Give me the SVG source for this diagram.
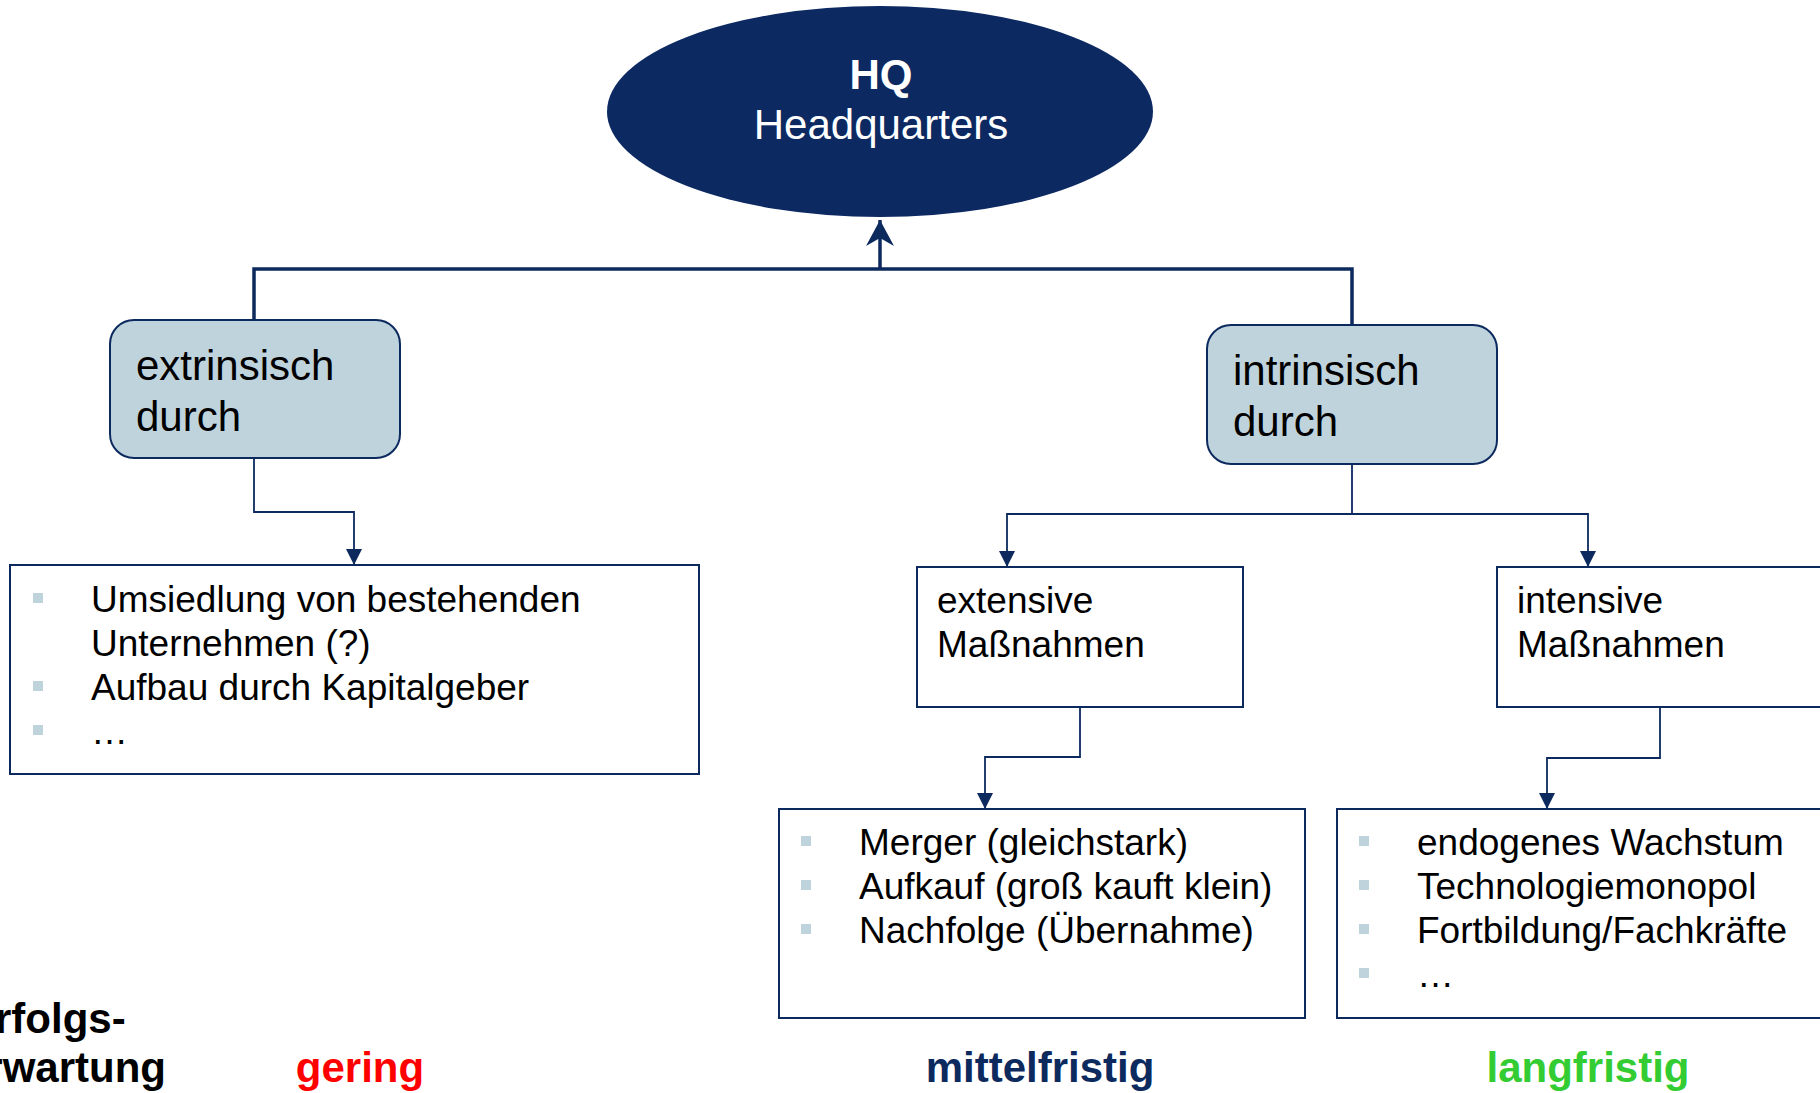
<svg xmlns="http://www.w3.org/2000/svg" width="1820" height="1093" viewBox="0 0 1820 1093">
<style>
text{font-family:"Liberation Sans",Arial,sans-serif;}
.h{font-size:42px;fill:#000;}
.b{font-size:37px;fill:#000;}
.lbl{font-size:42px;font-weight:bold;}
.rbox{fill:#BFD3DD;stroke:#0C2A5E;stroke-width:2;}
.box{fill:#fff;stroke:#0C2A5E;stroke-width:2;}
.bul{fill:#BFD3DD;}
.thick{fill:none;stroke:#0C2A5E;stroke-width:3.5;}
.thin{fill:none;stroke:#0C2A5E;stroke-width:1.8;}
</style>
<defs>
<marker id="stealth" viewBox="0 0 26 28" refX="26" refY="14" markerWidth="26" markerHeight="28" markerUnits="userSpaceOnUse" orient="auto">
<path d="M0,0 L26,14 L0,28 L8,14 z" fill="#0C2A5E"/>
</marker>
<marker id="fa" viewBox="0 0 10 10" refX="10" refY="5" markerWidth="16" markerHeight="16" markerUnits="userSpaceOnUse" orient="auto" preserveAspectRatio="none">
<path d="M0,0 L10,5 L0,10 z" fill="#0C2A5E"/>
</marker>
</defs>
<g id="connectors">
<path class="thick" d="M254,320 V269 H1352 V328"/>
<path class="thick" d="M880,269 V220" marker-end="url(#stealth)"/>
<path class="thin" d="M254,458 V512 H354 V565" marker-end="url(#fa)"/>
<path class="thin" d="M1352,464 V514 H1007 V567" marker-end="url(#fa)"/>
<path class="thin" d="M1352,514 H1588 V567" marker-end="url(#fa)"/>
<path class="thin" d="M1080,707 V757 H985 V809" marker-end="url(#fa)"/>
<path class="thin" d="M1660,707 V758 H1547 V809" marker-end="url(#fa)"/>
</g>
<g id="hq">
<ellipse cx="880" cy="111.5" rx="273" ry="105.5" fill="#0C2961"/>
<text x="881" y="89" text-anchor="middle" font-size="42" font-weight="bold" fill="#fff">HQ</text>
<text x="881" y="139" text-anchor="middle" font-size="42" fill="#fff">Headquarters</text>
</g>
<g id="extrinsisch">
<rect class="rbox" x="110" y="320" width="290" height="138" rx="24"/>
<text class="h" x="136" y="380">extrinsisch</text>
<text class="h" x="136" y="431">durch</text>
</g>
<g id="intrinsisch">
<rect class="rbox" x="1207" y="325" width="290" height="139" rx="24"/>
<text class="h" x="1233" y="385">intrinsisch</text>
<text class="h" x="1233" y="436">durch</text>
</g>
<g id="extrinsisch-list">
<rect class="box" x="10" y="565" width="689" height="209"/>
<rect class="bul" x="33" y="593" width="10" height="10"/>
<rect class="bul" x="33" y="681" width="10" height="10"/>
<rect class="bul" x="33" y="725" width="10" height="10"/>
<text class="b" x="91" y="612">Umsiedlung von bestehenden</text>
<text class="b" x="91" y="656">Unternehmen (?)</text>
<text class="b" x="91" y="700">Aufbau durch Kapitalgeber</text>
<text class="b" x="91" y="744">…</text>
</g>
<g id="extensive">
<rect class="box" x="917" y="567" width="326" height="140"/>
<text class="b" x="937" y="613">extensive</text>
<text class="b" x="937" y="657">Maßnahmen</text>
</g>
<g id="intensive">
<rect class="box" x="1497" y="567" width="340" height="140"/>
<text class="b" x="1517" y="613">intensive</text>
<text class="b" x="1517" y="657">Maßnahmen</text>
</g>
<g id="extensive-list">
<rect class="box" x="779" y="809" width="526" height="209"/>
<rect class="bul" x="801" y="836" width="10" height="10"/>
<rect class="bul" x="801" y="880" width="10" height="10"/>
<rect class="bul" x="801" y="924" width="10" height="10"/>
<text class="b" x="859" y="855">Merger (gleichstark)</text>
<text class="b" x="859" y="899">Aufkauf (groß kauft klein)</text>
<text class="b" x="859" y="943">Nachfolge (Übernahme)</text>
</g>
<g id="intensive-list">
<rect class="box" x="1337" y="809" width="500" height="209"/>
<rect class="bul" x="1359" y="836" width="10" height="10"/>
<rect class="bul" x="1359" y="880" width="10" height="10"/>
<rect class="bul" x="1359" y="924" width="10" height="10"/>
<rect class="bul" x="1359" y="968" width="10" height="10"/>
<text class="b" x="1417" y="855">endogenes Wachstum</text>
<text class="b" x="1417" y="899">Technologiemonopol</text>
<text class="b" x="1417" y="943">Fortbildung/Fachkräfte</text>
<text class="b" x="1417" y="987">…</text>
</g>
<g id="labels">
<text class="lbl" x="-33" y="1033" fill="#000">Erfolgs-</text>
<text class="lbl" x="-37" y="1082" fill="#000">erwartung</text>
<text class="lbl" x="360" y="1082" text-anchor="middle" fill="#FF0000">gering</text>
<text class="lbl" x="1040" y="1082" text-anchor="middle" fill="#0C2A5E">mittelfristig</text>
<text class="lbl" x="1588" y="1082" text-anchor="middle" fill="#33CC33">langfristig</text>
</g>
</svg>
